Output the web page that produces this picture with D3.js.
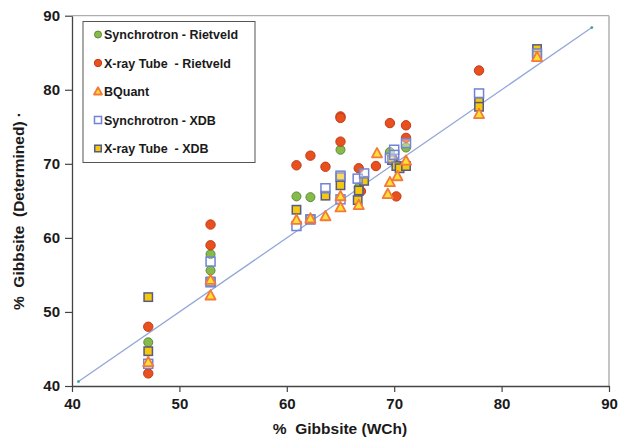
<!DOCTYPE html>
<html><head><meta charset="utf-8">
<script src="https://cdn.jsdelivr.net/npm/d3@7"></script>
<style>
body{margin:0;background:#fff;}
text{font-family:"Liberation Sans",Arial,sans-serif;}
</style></head>
<body><svg id="c" width="619" height="442"></svg>
<script>
// ---- data ----
const xTicks = [40, 50, 60, 70, 80, 90];
const yTicks = [40, 50, 60, 70, 80, 90];
const seriesNames = ["Synchrotron - Rietveld", "X-ray Tube  - Rietveld", "BQuant", "Synchrotron - XDB", "X-ray Tube  - XDB"];
const syncRietveld = [[47.1,45.9],[52.9,57.8],[52.9,55.6],[60.9,65.6],[62.2,65.5],[65.0,71.9],[66.7,66.8],[69.6,71.6],[71.1,72.2]];
const xrayRietveld = [[47.1,48.0],[47.1,41.7],[52.9,61.8],[52.9,59.0],[60.9,69.8],[62.2,71.1],[63.6,69.6],[65.0,76.4],[65.0,76.2],[65.0,73.0],[66.7,69.4],[66.9,66.3],[68.3,69.7],[69.6,75.5],[69.9,70.6],[70.2,65.6],[71.1,75.2],[71.1,73.5],[77.9,82.6]];
const bquant = [[47.1,43.2],[52.9,54.3],[52.9,52.2],[60.9,62.4],[62.2,62.6],[63.6,62.9],[65.0,65.6],[65.0,64.1],[66.7,64.4],[68.4,71.4],[70.3,68.3],[69.6,67.5],[69.4,65.9],[71.1,70.4],[77.9,76.7],[83.3,84.4]];
const syncXDB = [[47.1,43.0],[52.9,56.8],[52.9,54.0],[60.9,61.6],[62.2,62.5],[63.6,66.7],[65.0,68.4],[65.0,65.2],[66.6,68.0],[67.2,68.7],[69.6,70.8],[70.0,71.9],[70.0,71.2],[71.1,72.8],[77.9,79.5],[83.3,84.9]];
const xrayXDB = [[47.1,52.0],[47.1,44.7],[52.9,54.1],[60.9,63.8],[62.2,62.5],[63.6,65.7],[65.0,68.2],[65.0,67.1],[67.2,67.7],[66.7,66.4],[66.6,65.1],[69.8,70.5],[70.2,69.7],[70.5,69.4],[71.1,69.7],[77.9,78.4],[77.9,77.7],[83.3,85.5],[83.3,84.6]];
const lineEnds = [40.6, 88.4];

// ---- chart ----
const svg = d3.select("#c");
const L = 72, R = 609, T = 15.7, B = 386;
const x = d3.scaleLinear().domain([40, 90]).range([L, R]);
const y = d3.scaleLinear().domain([40, 90]).range([B, T]);

// frame (top/right light)
svg.append("line").attr("x1", L).attr("x2", R).attr("y1", T).attr("y2", T).attr("stroke", "#9a9a9a").attr("stroke-width", 1);
svg.append("line").attr("x1", R).attr("x2", R).attr("y1", T).attr("y2", B).attr("stroke", "#b0b0b0").attr("stroke-width", 1.5);

const xa = svg.append("g").attr("transform", `translate(0,${B})`)
  .call(d3.axisBottom(x).tickValues(xTicks).tickSize(6).tickSizeOuter(0).tickPadding(6));
const ya = svg.append("g").attr("transform", `translate(${L},0)`)
  .call(d3.axisLeft(y).tickValues(yTicks).tickSize(7).tickSizeOuter(0).tickPadding(5));
[xa, ya].forEach(g => {
  g.select(".domain").attr("stroke", "#444").attr("stroke-width", 1.3);
  g.selectAll(".tick line").attr("stroke", "#444").attr("stroke-width", 1.2);
  g.selectAll(".tick text").attr("font-size", 15).attr("font-weight", "bold").attr("fill", "#1a1a1a")
    .attr("font-family", "'Liberation Sans',Arial,sans-serif");
});

// 1:1 line
svg.append("line").attr("x1", x(lineEnds[0])).attr("y1", y(lineEnds[0])).attr("x2", x(lineEnds[1])).attr("y2", y(lineEnds[1]))
  .attr("stroke", "#93a8d8").attr("stroke-width", 1.3);
svg.selectAll("circle.end").data(lineEnds).enter().append("circle").attr("class", "end")
  .attr("cx", d => x(d)).attr("cy", d => y(d)).attr("r", 1.4).attr("fill", "#3aa0a0");

// markers
const styles = [
  {data: syncRietveld, shape: "circle", fill: "#86bb4a", stroke: "#5d8a3a", size: 4.5},
  {data: xrayRietveld, shape: "circle", fill: "#e8511e", stroke: "#c23a1a", size: 4.7},
  {data: xrayXDB, shape: "square", fill: "#f6c80a", stroke: "#565a86", size: 8.4},
  {data: syncXDB, shape: "square", fill: "rgba(255,255,255,0.35)", stroke: "#7083d6", size: 9},
  {data: bquant, shape: "triangle", fill: "#fde034", stroke: "#f4793b", size: 9.2}
];
const legendStyle = [styles[0], styles[1], styles[4], styles[3], styles[2]];

function draw(g, s, cx, cy, scale) {
  const k = scale || 1;
  if (s.shape === "circle") {
    g.append("circle").attr("cx", cx).attr("cy", cy).attr("r", s.size * k)
      .attr("fill", s.fill).attr("stroke", s.stroke).attr("stroke-width", 1);
  } else if (s.shape === "square") {
    const h = s.size * k / 2;
    g.append("rect").attr("x", cx - h).attr("y", cy - h).attr("width", 2 * h).attr("height", 2 * h)
      .attr("fill", s.fill).attr("stroke", s.stroke).attr("stroke-width", 1.5);
  } else {
    const h = s.size * k;
    const pts = [[cx, cy - h * 0.6], [cx + h * 0.55, cy + h * 0.42], [cx - h * 0.55, cy + h * 0.42]];
    g.append("polygon").attr("points", pts.map(p => p.join(",")).join(" "))
      .attr("fill", s.fill).attr("stroke", s.stroke).attr("stroke-width", 1.8).attr("stroke-linejoin", "round");
  }
}
const mg = svg.append("g");
styles.forEach(s => s.data.forEach(d => draw(mg, s, x(d[0]), y(d[1]))));

// legend
const lg = svg.append("g");
lg.append("rect").attr("x", 83).attr("y", 21.5).attr("width", 172).attr("height", 141)
  .attr("fill", "#fff").attr("stroke", "#555").attr("stroke-width", 1);
seriesNames.forEach((n, i) => {
  const cy = 34.5 + i * 28.5;
  draw(lg, legendStyle[i], 98, cy, 0.78);
  lg.append("text").attr("x", 104).attr("y", cy + 4.5).attr("font-size", 12.5).attr("font-weight", "bold")
    .attr("fill", "#1a1a1a").style("white-space", "pre").text(n);
});

// axis titles
svg.append("text").attr("x", 340).attr("y", 434).attr("text-anchor", "middle").attr("font-size", 15.5)
  .attr("font-weight", "bold").attr("fill", "#1a1a1a").style("white-space", "pre").text("%  Gibbsite (WCh)");
svg.append("text").attr("transform", "translate(24,211) rotate(-90)").attr("text-anchor", "middle").attr("font-size", 15.5)
  .attr("font-weight", "bold").attr("fill", "#1a1a1a").style("white-space", "pre").text("%  Gibbsite  (Determined) ·");
</script></body></html>
